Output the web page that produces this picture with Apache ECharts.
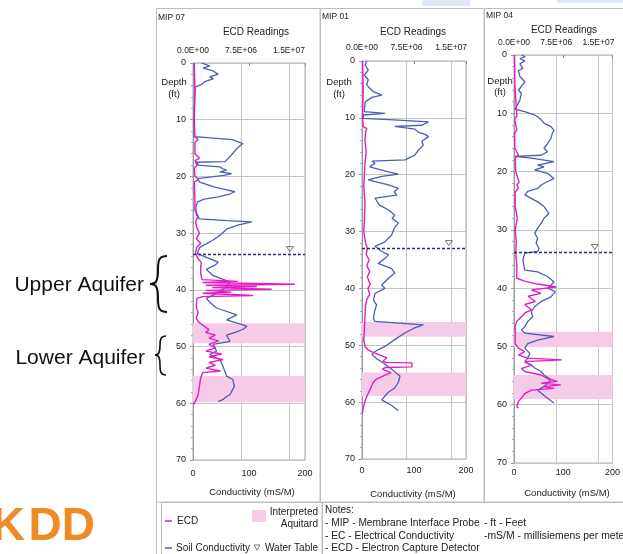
<!DOCTYPE html>
<html><head><meta charset="utf-8">
<script src="https://cdn.jsdelivr.net/npm/echarts@6/dist/echarts.min.js"></script>
<style>html,body{margin:0;padding:0;background:#fff}#c{width:623px;height:554px}</style>
</head><body><div id="c"></div>
<script>
// ---------- DATA ----------
const panelTitles = ['MIP 07', 'MIP 01', 'MIP 04'];
const ecdTicks = [0, 7.5e6, 1.5e7];
const condTicks = [0, 100, 200];
const depthTicks = [0, 10, 20, 30, 40, 50, 60, 70];

// soil conductivity [mS/M, depth ft]
const mip07Cond = [[15,0],[30,0.5],[18,0.9],[36,1.4],[45,2.0],[30,2.4],[36,2.8],[21,3.3],[15,3.8],[4,4.2],[3,6],[2,9],[2,13.0],
[20,13.1],[70,13.5],[89,14.2],[84,14.6],[78,15.1],[74,15.6],[66,16.5],[62,16.9],[57,17.4],[4,17.5],[8,18.0],[48,18.3],[52,18.6],[60,18.9],[48,19.2],[69,19.5],[55,19.8],[52,20.1],[8,20.4],[12,21.0],[36,21.8],[52,22.2],[75,22.7],[66,23.1],[45,23.6],[20,24.0],[8,24.5],[5,25.5],[6,26.8],
[12,27.5],[60,27.8],[105,28.0],[80,28.6],[60,29.3],[48,30.4],[36,31.2],[12,32.5],[8,33.6],[25,34.3],[45,35.1],[40,35.6],[24,36.4],[36,37.5],[66,38.6],[60,39.4],[48,40.3],[24,41.5],[30,42.2],[42,43.2],[78,44.4],[60,45.3],[96,46.4],[90,46.9],[78,47.4],[60,48.0],[66,49.1],[36,49.6],[42,50.8],[30,51.4],[48,52.3],[54,53.6],[60,55.2],[71,55.8],[74,57.0],[66,58.5],[60,58.8],[54,59.3],[45,59.7]];
const mip01Cond = [[9,0],[6,0.7],[12,1.6],[4.5,2.5],[12,3.3],[9,4.2],[15,4.8],[22,5.4],[38,6.0],[19,6.4],[6,7.2],[4.5,8.9],[44,9.2],[2.5,9.5],[2.5,10.1],[70,10.4],[128,10.7],[115,11.3],[63,11.5],[102,12.0],[108,12.5],[121,12.9],[128,13.3],[115,14.1],[118,14.8],[108,15.7],[102,16.5],[83,17.4],[19,17.6],[25,18.0],[15,18.6],[51,19.5],[70,19.9],[38,20.3],[12,20.9],[51,21.8],[70,22.4],[62,23.0],[67,23.6],[25,24.1],[33,25.3],[51,26.2],[63,27.1],[58,27.7],[70,28.5],[62,29.4],[57,30.6],[44,31.8],[25,32.6],[38,33.5],[51,34.1],[43,34.8],[31,35.6],[57,36.5],[63,37.3],[51,38.2],[38,39.4],[44,40.0],[25,40.9],[22,42.0],[28,42.9],[24,44.1],[22,45.3],[25,45.8],
[118,46.4],[100,47.0],[83,47.8],[63,49.0],[44,50.2],[25,51.1],[19,51.6],[29,52.4],[44,53.3],[57,54.2],[73,55.4],[70,56.5],[63,57.5],[50,58.3],[38,59.6],[57,60.6],[70,61.5]];
const mip04Cond = [[15,0],[23,0.3],[12,0.6],[22,1.0],[12,1.5],[18,2.3],[9,2.7],[12,3.7],[22,4.6],[15,5.4],[9,6.0],[15,6.6],[12,7.7],[5,8.9],[2,9.3],[22,9.7],[42,10.3],[48,10.6],[55,11.1],[61,11.7],[75,12.3],[81,12.9],[78,13.4],[75,14.3],[68,15.2],[61,16.0],[68,16.6],[55,17.2],[2,17.4],[35,17.7],[81,18.3],[48,18.9],[61,19.2],[42,19.7],[68,20.3],[81,21.2],[68,21.7],[55,22.3],[48,22.9],[28,23.4],[22,24.0],[35,24.6],[48,25.2],[61,26.0],[71,27.2],[61,28.0],[55,28.9],[48,29.7],[42,30.6],[48,31.4],[45,32.3],[51,33.2],[48,33.7],[22,34.0],[18,35.2],[22,36.9],[48,37.2],[68,38.0],[81,38.9],[75,39.5],[68,40.0],[84,40.6],[75,41.5],[55,42.3],[42,43.2],[35,44.0],[38,44.9],[28,45.7],[22,46.6],[15,47.2],[22,47.7],[81,48.3],[48,48.9],[28,49.5],[22,50.3],[32,51.2],[28,52.0],[22,52.6],[35,53.2],[42,53.7],[55,54.3],[61,54.9],[75,55.7],[68,56.3],[61,56.9],[48,57.5],[55,58.0],[68,58.9],[81,59.7]];

// ECD readings [value, depth ft]
const mip07Ecd = [[0.2e6,0],[0.3e6,5],[0.2e6,10],[0.3e6,13],[0.8e6,13.5],[0.3e6,14],[0.3e6,16],[1.0e6,16.8],[0.3e6,17.2],[0.8e6,17.8],[0.2e6,18.5],[0.3e6,20],[0.9e6,20.5],[0.2e6,21],[0.3e6,24],[0.3e6,26],[0.8e6,27],[0.4e6,28],[0.6e6,29],[1.0e6,30],[0.5e6,31],[1.2e6,31.8],[0.6e6,32.5],[0.4e6,33.5],[0.8e6,34.5],[1.3e6,35.2],[1.2e6,36],[1.2e6,37],[1.4e6,38.2],[7e6,38.5],[1.5e6,38.7],[15.9e6,39.0],[2e6,39.2],[10e6,39.4],[3e6,39.6],[12.3e6,39.9],[2e6,40.1],[6e6,40.4],[1.5e6,40.6],[9.4e6,41.0],[1.5e6,41.2],[0.6e6,41.5],[0.5e6,43],[0.8e6,44],[0.5e6,45],[0.8e6,45.6],[1.5e6,46.2],[2.5e6,47],[2e6,47.5],[3.5e6,48],[2.5e6,48.5],[4e6,49],[2.5e6,49.6],[3.5e6,50.2],[2e6,50.8],[4.5e6,51.3],[2.5e6,51.8],[4.7e6,52.3],[2.5e6,52.8],[3.5e6,53.3],[2e6,53.8],[4.3e6,54.3],[1.5e6,54.6],[1.2e6,55.5],[1.0e6,57],[0.8e6,58.5],[0.3e6,59.8],[0.1e6,60.2]];
const mip01Ecd = [[0.1e6,0],[0.2e6,5],[0.1e6,10],[0.2e6,11.5],[0.8e6,11.9],[0.6e6,12.5],[0.5e6,14],[0.7e6,16],[0.5e6,18],[0.4e6,20],[0.3e6,22],[0.5e6,25],[0.4e6,28],[0.3e6,30],[0.6e6,32],[0.9e6,33],[0.7e6,34],[1.2e6,35],[0.8e6,36],[1.3e6,37],[0.9e6,38],[1.4e6,39.3],[1.0e6,40],[1.3e6,41],[0.8e6,42],[0.6e6,43],[0.5e6,45],[0.4e6,47],[0.3e6,49],[0.5e6,50.2],[1.0e6,50.8],[1.6e6,51.1],[2.7e6,51.6],[4.2e6,52.2],[3.5e6,52.8],[4.0e6,53.0],[8.4e6,53.1],[8.4e6,53.8],[4.0e6,53.9],[3.4e6,54.2],[4.9e6,54.8],[3.8e6,55.3],[2.5e6,55.9],[1.9e6,56.5],[1.4e6,57.7],[0.9e6,58.8],[0.6e6,59.5],[0.2e6,61],[0.05e6,62]];
const mip04Ecd = [[0.1e6,0],[0.15e6,5],[0.5e6,10.5],[0.1e6,11],[0.5e6,12.8],[0.1e6,13.5],[0.15e6,16],[0.8e6,17.2],[0.2e6,17.6],[0.3e6,20],[0.9e6,21.8],[0.5e6,22.3],[0.8e6,22.8],[0.2e6,23.5],[0.2e6,26],[0.6e6,28],[0.2e6,30],[0.4e6,32],[0.3e6,34],[0.5e6,36],[0.5e6,38.3],[1.9e6,38.8],[4.2e6,39.3],[7.5e6,39.8],[3.1e6,40.3],[4.8e6,40.9],[2.5e6,41.4],[3.8e6,42.3],[1.9e6,42.8],[3.1e6,43.7],[1.9e6,44.3],[1.3e6,44.9],[0.5e6,45.7],[0.2e6,46.6],[0.2e6,49.5],[0.8e6,50.3],[1.9e6,50.9],[0.8e6,51.5],[2.5e6,52.0],[8.5e6,52.3],[1.9e6,52.6],[3.1e6,53.2],[1.3e6,53.8],[1.9e6,54.3],[4.8e6,54.9],[5.9e6,55.5],[7.7e6,56.0],[4.8e6,56.3],[8.3e6,56.6],[5.3e6,56.9],[7.1e6,57.2],[3.1e6,57.5],[1.9e6,58.1],[1.3e6,58.9],[0.8e6,59.4],[0.5e6,60.3],[0.8e6,60.6]];

// interpreted aquitards [top, bottom] (ft)
const mip07Aquitards = [[45.9,49.4],[55.2,59.8]];
const mip01Aquitards = [[45.9,48.5],[54.8,58.9]];
const mip04Aquitards = [[47.5,50.1],[54.9,59.0]];
// water table depth (ft) and symbol position (mS/M)
const waterTable = [33.7, 32.9, 33.8];
const waterSymbolX = [173, 167, 164];

// ---------- LAYOUT ----------
const grids = [
  {left:193, top:63, width:112, height:397},
  {left:362, top:61, width:104, height:398},
  {left:514, top:55, width:101, height:408}
];
const condData = [mip07Cond, mip01Cond, mip04Cond];
const ecdData = [mip07Ecd, mip01Ecd, mip04Ecd];
const aquitards = [mip07Aquitards, mip01Aquitards, mip04Aquitards];

const FONT = 'Liberation Sans, Arial, sans-serif';
const BLUE = '#4a5fb3', MAG = '#e51cc6', PINK = '#f6cbe7', GRIDC = '#c6c6c6', TXT = '#222';

function ecdFmt(v){
  if (ecdTicks.indexOf(v) < 0) return '';
  const p = v.toExponential(1).split('e');
  const e = parseInt(p[1],10);
  return p[0] + 'E' + (e < 0 ? '-' : '+') + String(Math.abs(e)).padStart(2,'0');
}

const xAxis = [], yAxis = [], series = [];
const topMargins = [8, 9, 7.5], botMargins = [9, 7, 5];
grids.forEach((g, i) => {
  xAxis.push({
    gridIndex:i, type:'value', position:'bottom', min:condTicks[0], max:condTicks[2], interval:100,
    axisLine:{show:false}, splitLine:{show:false},
    axisTick:{show:true, length:3, lineStyle:{color:'#888'}},
    axisLabel:{fontFamily:FONT, fontSize:9, color:TXT, margin:botMargins[i]}
  });
  xAxis.push({
    gridIndex:i, type:'value', position:'top', min:0, max:1.75e7, interval:7.5e6,
    axisLine:{show:false}, axisTick:{show:false}, minorTick:{show:false},
    splitLine:{show:true, lineStyle:{color:GRIDC, width:1}},
    axisLabel:{fontFamily:FONT, fontSize:8.5, color:TXT, margin:topMargins[i], formatter:ecdFmt, showMaxLabel:false}
  });
  yAxis.push({
    gridIndex:i, type:'value', inverse:true, min:0, max:70, interval:10,
    axisLine:{show:true, lineStyle:{color:'#999'}},
    axisTick:{show:true, length:3, lineStyle:{color:'#999'}},
    minorTick:{show:true, splitNumber:5, length:2, lineStyle:{color:'#aaa'}},
    splitLine:{show:true, lineStyle:{color:GRIDC}},
    axisLabel:{fontFamily:FONT, fontSize:9, color:TXT, margin:7}
  });
  series.push({
    type:'line', xAxisIndex:2*i, yAxisIndex:i, data:[], silent:true,
    markArea:{silent:true, z:1, itemStyle:{color:PINK}, label:{show:false},
      data: aquitards[i].map(a => [{yAxis:a[0]}, {yAxis:a[1]}])}
  });
  series.push({
    type:'line', xAxisIndex:2*i, yAxisIndex:i, data:condData[i], symbol:'none', z:3,
    lineStyle:{color:BLUE, width:1.3}, animation:false,
    markLine:{silent:true, symbol:'none', label:{show:false},
      lineStyle:{color:'#27306e', type:[3,2], width:1.4},
      data:[{yAxis:waterTable[i]}]},
    markPoint:{silent:true, symbol:'triangle', symbolRotate:180, symbolSize:[7,5], symbolOffset:[0,-5],
      itemStyle:{color:'rgba(255,255,255,0)', borderColor:'#555', borderWidth:0.8}, label:{show:false},
      data:[{coord:[waterSymbolX[i], waterTable[i]]}]}
  });
  series.push({
    type:'line', xAxisIndex:2*i+1, yAxisIndex:i, data:ecdData[i], symbol:'none', z:4,
    lineStyle:{color:MAG, width:1.4}, animation:false
  });
});

const gridOpts = grids.map(g => Object.assign({show:true, borderColor:'#aaa', borderWidth:1, backgroundColor:'rgba(0,0,0,0)', containLabel:false}, g));

function txt(x, y, s, size, opts, sx){
  const el = {type:'text', x:x, y:y, style:Object.assign({text:s, fontSize:size, fontFamily:FONT, fill:TXT, textAlign:'left', textVerticalAlign:'middle'}, opts||{})};
  if (sx) el.scaleX = sx;
  return el;
}
function bez(a){ return {type:'bezierCurve', shape:{x1:a[0],y1:a[1],cpx1:a[2],cpy1:a[3],cpx2:a[4],cpy2:a[5],x2:a[6],y2:a[7]}, style:{fill:'none', stroke:'#111', lineWidth:a[8]}}; }
const BOXC = '#bdbdbd';
const graphic = [
  {type:'rect', shape:{x:422, y:0, width:48, height:6}, style:{fill:'#dde9f5'}},
  {type:'rect', shape:{x:557, y:0, width:66, height:3}, style:{fill:'#dde9f5'}},
  {type:'rect', shape:{x:156.5, y:8.5, width:163.5, height:493.5}, style:{fill:'none', stroke:BOXC, lineWidth:1}},
  {type:'rect', shape:{x:320.5, y:8.5, width:163.5, height:493.5}, style:{fill:'none', stroke:BOXC, lineWidth:1}},
  {type:'rect', shape:{x:484.5, y:8.5, width:150, height:493.5}, style:{fill:'none', stroke:BOXC, lineWidth:1}},
  {type:'line', shape:{x1:156.5, y1:502, x2:156.5, y2:554}, style:{stroke:BOXC, lineWidth:1}},
  {type:'rect', shape:{x:161.5, y:502.5, width:160.5, height:60}, style:{fill:'none', stroke:BOXC, lineWidth:1}},
  {type:'rect', shape:{x:322.5, y:502.5, width:310, height:60}, style:{fill:'none', stroke:BOXC, lineWidth:1}},
  txt(158, 18, panelTitles[0], 8.5),
  txt(322, 17, panelTitles[1], 8.5),
  txt(486, 16, panelTitles[2], 8.5),
  txt(256, 32, 'ECD Readings', 10, {textAlign:'center'}),
  txt(413, 32, 'ECD Readings', 10, {textAlign:'center'}),
  txt(564, 30, 'ECD Readings', 10, {textAlign:'center'}),
  txt(174, 82, 'Depth', 9.5, {textAlign:'center'}),
  txt(174, 94, '(ft)', 9.5, {textAlign:'center'}),
  txt(339, 82, 'Depth', 9.5, {textAlign:'center'}),
  txt(339, 94, '(ft)', 9.5, {textAlign:'center'}),
  txt(500, 81, 'Depth', 9.5, {textAlign:'center'}),
  txt(500, 92, '(ft)', 9.5, {textAlign:'center'}),
  txt(252, 492, 'Conductivity (mS/M)', 9.5, {textAlign:'center'}),
  txt(413, 494, 'Conductivity (mS/M)', 9.5, {textAlign:'center'}),
  txt(567, 493, 'Conductivity (mS/M)', 9.5, {textAlign:'center'}),
  // legend
  {type:'line', shape:{x1:165, y1:521, x2:172, y2:521}, style:{stroke:MAG, lineWidth:1.5}},
  txt(177, 521, 'ECD', 10),
  {type:'rect', shape:{x:252, y:510, width:14, height:12}, style:{fill:PINK}},
  txt(318, 512, 'Interpreted', 10, {textAlign:'right'}),
  txt(318, 524, 'Aquitard', 10, {textAlign:'right'}),
  {type:'line', shape:{x1:165, y1:548, x2:172, y2:548}, style:{stroke:BLUE, lineWidth:1.5}},
  txt(176, 548, 'Soil Conductivity', 10),
  {type:'polygon', shape:{points:[[254,545],[260,545],[257,550]]}, style:{fill:'none', stroke:'#555', lineWidth:0.8}},
  txt(318, 548, 'Water Table', 10, {textAlign:'right'}),
  // notes
  txt(325, 510, 'Notes:', 10),
  txt(325, 523, '- MIP - Membrane Interface Probe', 10.2),
  txt(325, 536, '- EC - Electrical Conductivity', 10.2),
  txt(325, 548, '- ECD - Electron Capture Detector', 10.2),
  txt(484, 523, '- ft - Feet', 10.4),
  txt(484, 536, '-mS/M - millisiemens per meter', 10.4),
  // aquifer annotations
  txt(144, 285, 'Upper Aquifer', 21, {textAlign:'right', fill:'#111'}),
  txt(145, 358, 'Lower Aquifer', 21, {textAlign:'right', fill:'#111'}),
  bez([167,256, 159,256, 158,260, 158,270, 2]),
  bez([158,270, 158,281, 156,284, 150,284, 2]),
  bez([150,284, 156,284, 158,287, 158,298, 2]),
  bez([158,298, 158,308, 159,312, 167,312, 2]),
  bez([166,336, 161,336, 160,339, 160,345, 1.6]),
  bez([160,345, 160,352, 159,355, 155,355, 1.6]),
  bez([155,355, 159,355, 160,358, 160,365, 1.6]),
  bez([160,365, 160,372, 161,375, 166,375, 1.6]),
  // logo
  txt(25, 527, 'K', 46, {textAlign:'right', fontWeight:'bold', fill:'#f08a24'}),
  txt(95, 527, 'DD', 46, {textAlign:'right', fontWeight:'bold', fill:'#f08a24'})
];

const chart = echarts.init(document.getElementById('c'), null, {renderer:'canvas'});
chart.setOption({
  animation:false,
  backgroundColor:'#fff',
  grid:gridOpts,
  xAxis:xAxis,
  yAxis:yAxis,
  series:series,
  graphic:graphic
});
</script></body></html>
